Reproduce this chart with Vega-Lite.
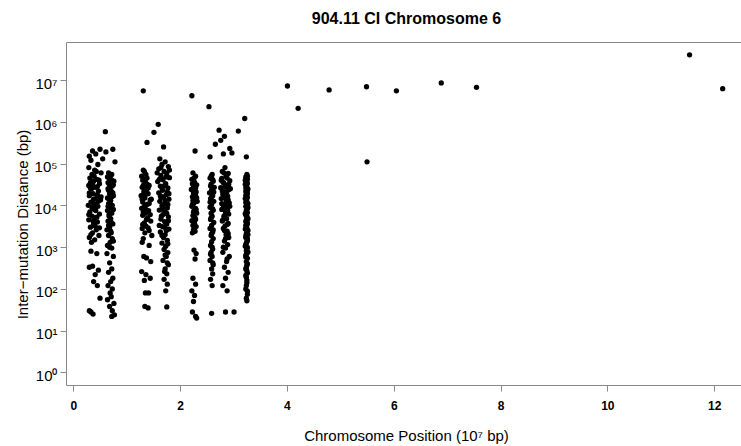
{
"$schema": "https://vega.github.io/schema/vega-lite/v6.json",
"width": 675, "height": 343,
"autosize": {"type": "none"},
"padding": {"left": 66, "top": 42, "right": 0, "bottom": 61},
"background": "white",
"config": {"view": {"stroke": null}, "font": "Liberation Sans"},
"title": {"text": "904.11 CI Chromosome 6", "fontSize": 16, "fontWeight": "bold", "color": "#000", "anchor": "middle", "frame": "group", "baseline": "alphabetic", "offset": 2, "dx": 3, "font": "Liberation Sans"},
"datasets": {"pts": [
{"x":1.31,"d":5500000},{"x":2.22,"d":4200000},{"x":2.54,"d":2300000},{"x":4.01,"d":7200000},{"x":4.21,"d":2100000},{"x":4.79,"d":5800000},{"x":5.49,"d":6900000},{"x":5.5,"d":110000},{"x":6.05,"d":5500000},{"x":6.89,"d":8500000},{"x":7.55,"d":6700000},{"x":11.54,"d":40000000},{"x":12.16,"d":6200000},
{"x":0.30,"d":150000},{"x":0.36,"d":200000},{"x":0.42,"d":170000},{"x":0.50,"d":220000},{"x":0.55,"d":130000},{"x":0.33,"d":120000},{"x":0.46,"d":95000},{"x":0.29,"d":80000},{"x":0.40,"d":70000},{"x":0.52,"d":60000},{"x":0.35,"d":55000},{"x":0.31,"d":45000},{"x":0.44,"d":42000},{"x":0.38,"d":38000},{"x":0.49,"d":33000},{"x":0.29,"d":30000},{"x":0.41,"d":27000},{"x":0.34,"d":25000},{"x":0.47,"d":22000},{"x":0.37,"d":19000},{"x":0.30,"d":17000},{"x":0.44,"d":15000},{"x":0.51,"d":13500},{"x":0.33,"d":12000},{"x":0.39,"d":11000},{"x":0.28,"d":10000},{"x":0.46,"d":9500},{"x":0.36,"d":8500},{"x":0.42,"d":7500},{"x":0.31,"d":7000},{"x":0.49,"d":6200},{"x":0.35,"d":5500},{"x":0.40,"d":5000},{"x":0.29,"d":4500},{"x":0.45,"d":4000},{"x":0.38,"d":3500},{"x":0.32,"d":3000},{"x":0.43,"d":2600},{"x":0.36,"d":2200},{"x":0.48,"d":1900},{"x":0.30,"d":1700},{"x":0.40,"d":1500},{"x":0.34,"d":1300},{"x":0.45,"d":18000},{"x":0.32,"d":35000},{"x":0.43,"d":65000},{"x":0.38,"d":14000},{"x":0.48,"d":40000},{"x":0.35,"d":9000},{"x":0.41,"d":3200},{"x":0.33,"d":800},{"x":0.44,"d":700},{"x":0.36,"d":350},{"x":0.30,"d":330},{"x":0.47,"d":280},{"x":0.41,"d":220},{"x":0.38,"d":150},{"x":0.45,"d":120},{"x":0.33,"d":28},{"x":0.37,"d":25},{"x":0.30,"d":30},{"x":0.50,"d":60},
{"x":0.32,"d":26000},{"x":0.47,"d":12500},{"x":0.40,"d":8000},{"x":0.29,"d":6000},{"x":0.44,"d":5200},{"x":0.37,"d":4200},{"x":0.49,"d":2900},{"x":0.33,"d":2000},{"x":0.39,"d":50000},{"x":0.45,"d":28000},{"x":0.30,"d":20000},{"x":0.52,"d":16000},{"x":0.36,"d":32000},{"x":0.42,"d":10500},
{"x":0.60,"d":580000},{"x":0.61,"d":190000},{"x":0.74,"d":220000},{"x":0.78,"d":110000},{"x":0.66,"d":60000},{"x":0.72,"d":55000},{"x":0.64,"d":48000},{"x":0.70,"d":42000},{"x":0.76,"d":38000},{"x":0.67,"d":33000},{"x":0.73,"d":29000},{"x":0.65,"d":25000},{"x":0.71,"d":22000},{"x":0.68,"d":19000},{"x":0.75,"d":17000},{"x":0.64,"d":15000},{"x":0.70,"d":13000},{"x":0.66,"d":11000},{"x":0.73,"d":10000},{"x":0.68,"d":8500},{"x":0.64,"d":7500},{"x":0.72,"d":6500},{"x":0.67,"d":5500},{"x":0.70,"d":4800},{"x":0.65,"d":4200},{"x":0.74,"d":3600},{"x":0.68,"d":3000},{"x":0.63,"d":2600},{"x":0.71,"d":2200},{"x":0.66,"d":1900},{"x":0.73,"d":1600},{"x":0.69,"d":1300},{"x":0.64,"d":1100},{"x":0.72,"d":950},{"x":0.67,"d":45000},{"x":0.69,"d":27000},{"x":0.67,"d":14000},{"x":0.71,"d":9000},{"x":0.65,"d":35000},{"x":0.74,"d":20000},{"x":0.63,"d":700},{"x":0.75,"d":600},{"x":0.68,"d":420},{"x":0.72,"d":300},{"x":0.66,"d":250},{"x":0.74,"d":180},{"x":0.70,"d":150},{"x":0.65,"d":120},{"x":0.73,"d":100},{"x":0.69,"d":80},{"x":0.71,"d":65},{"x":0.64,"d":55},{"x":0.76,"d":45},{"x":0.68,"d":38},{"x":0.73,"d":30},{"x":0.72,"d":22},{"x":0.77,"d":24},
{"x":0.69,"d":50000},{"x":0.75,"d":31000},{"x":0.66,"d":23000},{"x":0.72,"d":16000},{"x":0.69,"d":11500},{"x":0.75,"d":8000},{"x":0.67,"d":6000},{"x":0.71,"d":3900},{"x":0.66,"d":3300},{"x":0.70,"d":2400},{"x":0.75,"d":1400},{"x":0.68,"d":1000},{"x":0.72,"d":40000},{"x":0.65,"d":9500},
{"x":1.33,"d":65000},{"x":1.28,"d":50000},{"x":1.38,"d":45000},{"x":1.30,"d":40000},{"x":1.35,"d":35000},{"x":1.42,"d":30000},{"x":1.29,"d":27000},{"x":1.37,"d":24000},{"x":1.32,"d":21000},{"x":1.40,"d":19000},{"x":1.27,"d":17000},{"x":1.34,"d":15000},{"x":1.44,"d":13500},{"x":1.30,"d":12000},{"x":1.38,"d":10500},{"x":1.33,"d":9500},{"x":1.28,"d":8500},{"x":1.41,"d":7500},{"x":1.35,"d":6500},{"x":1.30,"d":5800},{"x":1.39,"d":5000},{"x":1.45,"d":4200},{"x":1.33,"d":3800},{"x":1.36,"d":3200},{"x":1.29,"d":2800},{"x":1.42,"d":2500},{"x":1.34,"d":2200},{"x":1.47,"d":1900},{"x":1.31,"d":1600},{"x":1.38,"d":32000},{"x":1.46,"d":14000},{"x":1.31,"d":70000},{"x":1.29,"d":1300},{"x":1.42,"d":1100},{"x":1.32,"d":600},{"x":1.37,"d":550},{"x":1.45,"d":450},{"x":1.28,"d":260},{"x":1.36,"d":220},{"x":1.44,"d":180},{"x":1.33,"d":160},{"x":1.35,"d":80},{"x":1.41,"d":80},{"x":1.34,"d":38},{"x":1.40,"d":35},
{"x":1.36,"d":55000},{"x":1.31,"d":30000},{"x":1.40,"d":26000},{"x":1.35,"d":18000},{"x":1.29,"d":14000},{"x":1.42,"d":11000},{"x":1.36,"d":8000},{"x":1.31,"d":7000},{"x":1.44,"d":6000},{"x":1.37,"d":4600},{"x":1.30,"d":3500},{"x":1.40,"d":2900},{"x":1.35,"d":42000},{"x":1.33,"d":25000},
{"x":1.59,"d":870000},{"x":1.51,"d":560000},{"x":1.38,"d":320000},{"x":1.69,"d":250000},{"x":1.62,"d":130000},{"x":1.72,"d":110000},{"x":1.66,"d":95000},{"x":1.78,"d":85000},{"x":1.60,"d":75000},{"x":1.70,"d":65000},{"x":1.75,"d":58000},{"x":1.64,"d":52000},{"x":1.80,"d":46000},{"x":1.68,"d":41000},{"x":1.58,"d":37000},{"x":1.73,"d":33000},{"x":1.63,"d":29000},{"x":1.77,"d":26000},{"x":1.67,"d":23000},{"x":1.60,"d":20000},{"x":1.74,"d":18000},{"x":1.69,"d":16000},{"x":1.79,"d":14000},{"x":1.62,"d":12500},{"x":1.71,"d":11000},{"x":1.66,"d":9800},{"x":1.76,"d":8700},{"x":1.61,"d":7700},{"x":1.73,"d":6800},{"x":1.68,"d":6000},{"x":1.78,"d":5300},{"x":1.64,"d":4700},{"x":1.71,"d":4100},{"x":1.75,"d":3600},{"x":1.67,"d":3100},{"x":1.79,"d":2700},{"x":1.63,"d":2300},{"x":1.72,"d":2000},{"x":1.69,"d":1700},{"x":1.76,"d":1450},{"x":1.66,"d":1250},{"x":1.73,"d":1050},{"x":1.70,"d":880},{"x":1.77,"d":740},{"x":1.74,"d":600},{"x":1.68,"d":480},{"x":1.78,"d":380},{"x":1.72,"d":300},{"x":1.75,"d":230},{"x":1.70,"d":170},{"x":1.76,"d":130},{"x":1.73,"d":90},{"x":1.75,"d":37},{"x":1.65,"d":45000},{"x":1.76,"d":21000},{"x":1.64,"d":15000},{"x":1.77,"d":10500},{"x":1.70,"d":7200},{"x":1.61,"d":3300},{"x":1.74,"d":2500},{"x":1.80,"d":70000},{"x":1.57,"d":60000},
{"x":1.64,"d":80000},{"x":1.74,"d":48000},{"x":1.61,"d":42000},{"x":1.71,"d":30000},{"x":1.66,"d":26000},{"x":1.79,"d":19000},{"x":1.63,"d":17000},{"x":1.72,"d":13000},{"x":1.68,"d":8500},{"x":1.75,"d":6400},{"x":1.65,"d":5500},{"x":1.78,"d":4300},{"x":1.71,"d":3000},{"x":1.66,"d":1900},{"x":1.77,"d":1200},{"x":1.72,"d":650},{"x":1.76,"d":420},{"x":1.71,"d":260},
{"x":2.28,"d":200000},{"x":2.24,"d":60000},{"x":2.29,"d":50000},{"x":2.22,"d":42000},{"x":2.27,"d":36000},{"x":2.31,"d":31000},{"x":2.25,"d":27000},{"x":2.21,"d":24000},{"x":2.30,"d":21000},{"x":2.26,"d":18500},{"x":2.23,"d":16000},{"x":2.28,"d":14000},{"x":2.32,"d":12500},{"x":2.25,"d":11000},{"x":2.22,"d":9500},{"x":2.29,"d":8500},{"x":2.26,"d":7500},{"x":2.31,"d":6500},{"x":2.24,"d":5700},{"x":2.28,"d":5000},{"x":2.22,"d":4300},{"x":2.27,"d":3700},{"x":2.30,"d":3100},{"x":2.25,"d":2600},{"x":2.23,"d":2200},{"x":2.27,"d":30000},{"x":2.24,"d":13000},{"x":2.29,"d":17000},{"x":2.26,"d":850},{"x":2.30,"d":700},{"x":2.28,"d":520},{"x":2.24,"d":180},{"x":2.29,"d":130},{"x":2.22,"d":90},{"x":2.27,"d":70},{"x":2.25,"d":50},{"x":2.23,"d":28},{"x":2.29,"d":22},{"x":2.31,"d":20},
{"x":2.26,"d":45000},{"x":2.23,"d":33000},{"x":2.29,"d":26000},{"x":2.25,"d":20000},{"x":2.31,"d":15000},{"x":2.27,"d":11800},{"x":2.23,"d":10500},{"x":2.30,"d":7800},{"x":2.25,"d":6800},{"x":2.29,"d":4600},{"x":2.26,"d":4000},{"x":2.24,"d":3300},{"x":2.28,"d":2400},
{"x":2.56,"d":145000},{"x":2.60,"d":55000},{"x":2.56,"d":45000},{"x":2.62,"d":38000},{"x":2.58,"d":32000},{"x":2.64,"d":27000},{"x":2.59,"d":23000},{"x":2.55,"d":20000},{"x":2.61,"d":17000},{"x":2.57,"d":14500},{"x":2.63,"d":12500},{"x":2.59,"d":10500},{"x":2.56,"d":9000},{"x":2.62,"d":7600},{"x":2.58,"d":6500},{"x":2.60,"d":5500},{"x":2.57,"d":4600},{"x":2.63,"d":3900},{"x":2.59,"d":3300},{"x":2.56,"d":2800},{"x":2.61,"d":2300},{"x":2.58,"d":1900},{"x":2.62,"d":1600},{"x":2.59,"d":1350},{"x":2.57,"d":1100},{"x":2.61,"d":900},{"x":2.58,"d":750},{"x":2.60,"d":600},{"x":2.56,"d":480},{"x":2.62,"d":380},{"x":2.59,"d":300},{"x":2.61,"d":230},{"x":2.57,"d":170},{"x":2.60,"d":120},{"x":2.59,"d":26},
{"x":2.58,"d":50000},{"x":2.61,"d":41000},{"x":2.57,"d":29000},{"x":2.63,"d":21000},{"x":2.59,"d":16000},{"x":2.56,"d":12000},{"x":2.61,"d":8200},{"x":2.58,"d":5000},{"x":2.62,"d":2600},{"x":2.59,"d":2100},{"x":2.60,"d":1000},{"x":2.57,"d":680},{"x":2.61,"d":420},
{"x":2.73,"d":630000},{"x":2.83,"d":450000},{"x":2.76,"d":360000},{"x":2.66,"d":290000},{"x":2.93,"d":230000},{"x":2.97,"d":180000},{"x":2.81,"d":170000},{"x":3.09,"d":600000},{"x":2.84,"d":80000},{"x":2.79,"d":65000},{"x":2.90,"d":58000},{"x":2.86,"d":50000},{"x":2.78,"d":44000},{"x":2.93,"d":39000},{"x":2.82,"d":34000},{"x":2.88,"d":30000},{"x":2.76,"d":26500},{"x":2.91,"d":23500},{"x":2.84,"d":21000},{"x":2.80,"d":18500},{"x":2.89,"d":16500},{"x":2.77,"d":14500},{"x":2.86,"d":13000},{"x":2.92,"d":11500},{"x":2.81,"d":10000},{"x":2.88,"d":9000},{"x":2.78,"d":8000},{"x":2.85,"d":7000},{"x":2.91,"d":6200},{"x":2.82,"d":5500},{"x":2.87,"d":4800},{"x":2.79,"d":4200},{"x":2.90,"d":3700},{"x":2.84,"d":3200},{"x":2.81,"d":2800},{"x":2.88,"d":2400},{"x":2.86,"d":2000},{"x":2.91,"d":1700},{"x":2.83,"d":1400},{"x":2.89,"d":1150},{"x":2.85,"d":950},{"x":2.80,"d":750},{"x":2.92,"d":600},{"x":2.87,"d":450},{"x":2.83,"d":330},{"x":2.90,"d":250},{"x":2.85,"d":180},{"x":2.80,"d":120},{"x":2.88,"d":90},{"x":2.85,"d":28},{"x":3.01,"d":28},{"x":2.94,"d":25000},{"x":2.77,"d":40000},{"x":2.93,"d":9500},
{"x":2.82,"d":60000},{"x":2.88,"d":45000},{"x":2.80,"d":36000},{"x":2.91,"d":32000},{"x":2.85,"d":27500},{"x":2.79,"d":22000},{"x":2.87,"d":19500},{"x":2.83,"d":15500},{"x":2.90,"d":13500},{"x":2.78,"d":11000},{"x":2.86,"d":10500},{"x":2.82,"d":8500},{"x":2.89,"d":7500},{"x":2.84,"d":5800},{"x":2.80,"d":4500},{"x":2.88,"d":3500},{"x":2.83,"d":2500},{"x":2.90,"d":2100},{"x":2.85,"d":1600},{"x":2.81,"d":1000},{"x":2.88,"d":520},
{"x":3.21,"d":1200000},{"x":3.24,"d":145000},{"x":3.25,"d":55000},{"x":3.23,"d":48000},{"x":3.26,"d":42000},{"x":3.24,"d":37000},{"x":3.22,"d":32000},{"x":3.25,"d":28000},{"x":3.27,"d":24500},{"x":3.23,"d":21500},{"x":3.26,"d":19000},{"x":3.24,"d":16500},{"x":3.22,"d":14500},{"x":3.25,"d":12500},{"x":3.27,"d":11000},{"x":3.23,"d":9500},{"x":3.26,"d":8300},{"x":3.24,"d":7200},{"x":3.22,"d":6300},{"x":3.25,"d":5500},{"x":3.27,"d":4800},{"x":3.23,"d":4100},{"x":3.26,"d":3600},{"x":3.24,"d":3100},{"x":3.22,"d":2700},{"x":3.25,"d":2300},{"x":3.27,"d":2000},{"x":3.23,"d":1700},{"x":3.26,"d":1450},{"x":3.24,"d":1250},{"x":3.22,"d":1050},{"x":3.25,"d":900},{"x":3.27,"d":760},{"x":3.23,"d":640},{"x":3.26,"d":540},{"x":3.24,"d":450},{"x":3.25,"d":370},{"x":3.23,"d":300},{"x":3.26,"d":240},{"x":3.24,"d":190},{"x":3.25,"d":140},{"x":3.23,"d":100},{"x":3.26,"d":75},{"x":3.24,"d":60},{"x":3.25,"d":52},
{"x":3.26,"d":50000},{"x":3.24,"d":44000},{"x":3.22,"d":40000},{"x":3.26,"d":34000},{"x":3.24,"d":30000},{"x":3.23,"d":26000},{"x":3.26,"d":23000},{"x":3.25,"d":20000},{"x":3.23,"d":17500},{"x":3.26,"d":15500},{"x":3.24,"d":13500},{"x":3.23,"d":11800},{"x":3.25,"d":10200},{"x":3.27,"d":8900},{"x":3.24,"d":7700},{"x":3.26,"d":6700},{"x":3.23,"d":5900},{"x":3.25,"d":5100},{"x":3.24,"d":4400},{"x":3.26,"d":3800},{"x":3.23,"d":3300},{"x":3.25,"d":2900},{"x":3.27,"d":2500},{"x":3.24,"d":2100},{"x":3.23,"d":1850},{"x":3.26,"d":1600},{"x":3.25,"d":1350},{"x":3.23,"d":1150},{"x":3.26,"d":980},{"x":3.24,"d":820},{"x":3.25,"d":700},{"x":3.23,"d":580},{"x":3.26,"d":400},{"x":3.24,"d":330},{"x":3.25,"d":270},{"x":3.23,"d":210},{"x":3.25,"d":160},{"x":3.24,"d":120},{"x":3.26,"d":88}
]},
"data": {"name": "pts"},
"layer": [
{"mark": {"type": "circle", "size": 28, "color": "#000", "opacity": 1},
 "encoding": {
  "x": {"field": "x", "type": "quantitative", "scale": {"domain": [-0.137, 12.503], "nice": false, "zero": false},
   "axis": {"values": [0, 2, 4, 6, 8, 10, 12], "title": "Chromosome Position (10⁷ bp)", "grid": false, "domainColor": "#888", "tickColor": "#888", "tickSize": 6, "tickWidth": 1, "labelFontWeight": "bold", "labelFontSize": 12, "labelColor": "#000", "labelPadding": 9, "labelFlush": false, "labelOverlap": false, "titleFontSize": 15, "titleFontWeight": "normal", "titleColor": "#000", "titleX": 340, "titleY": 55, "titleBaseline": "alphabetic"}},
  "y": {"field": "d", "type": "quantitative", "scale": {"type": "log", "domain": [0.501, 81300000], "nice": false},
   "axis": {"values": [1, 10, 100, 1000, 10000, 100000, 1000000, 10000000], "labelExpr": "'10' + ['⁰','¹','²','³','⁴','⁵','⁶','⁷'][round(log(datum.value)/LN10)]", "title": "Inter−mutation Distance (bp)", "grid": false, "domainColor": "#888", "tickColor": "#888", "tickSize": 6, "tickWidth": 1, "labelFontSize": 15, "labelColor": "#000", "labelPadding": 3, "labelBaseline": "alphabetic", "labelOffset": 8, "labelFlush": false, "labelOverlap": false, "titleFontSize": 15, "titleFontWeight": "normal", "titleColor": "#000", "titleX": -39, "titleY": 182, "titleAngle": 270, "titleBaseline": "alphabetic"}}
 }},
{"mark": {"type": "circle", "size": 20, "opacity": 0},
 "encoding": {
  "x": {"field": "x", "type": "quantitative", "axis": {"orient": "top", "labels": false, "ticks": false, "title": null, "grid": false, "domainColor": "#888", "minExtent": 0, "maxExtent": 0}},
  "y": {"field": "d", "type": "quantitative"}
 }}
],
"resolve": {"axis": {"x": "independent"}}
}
